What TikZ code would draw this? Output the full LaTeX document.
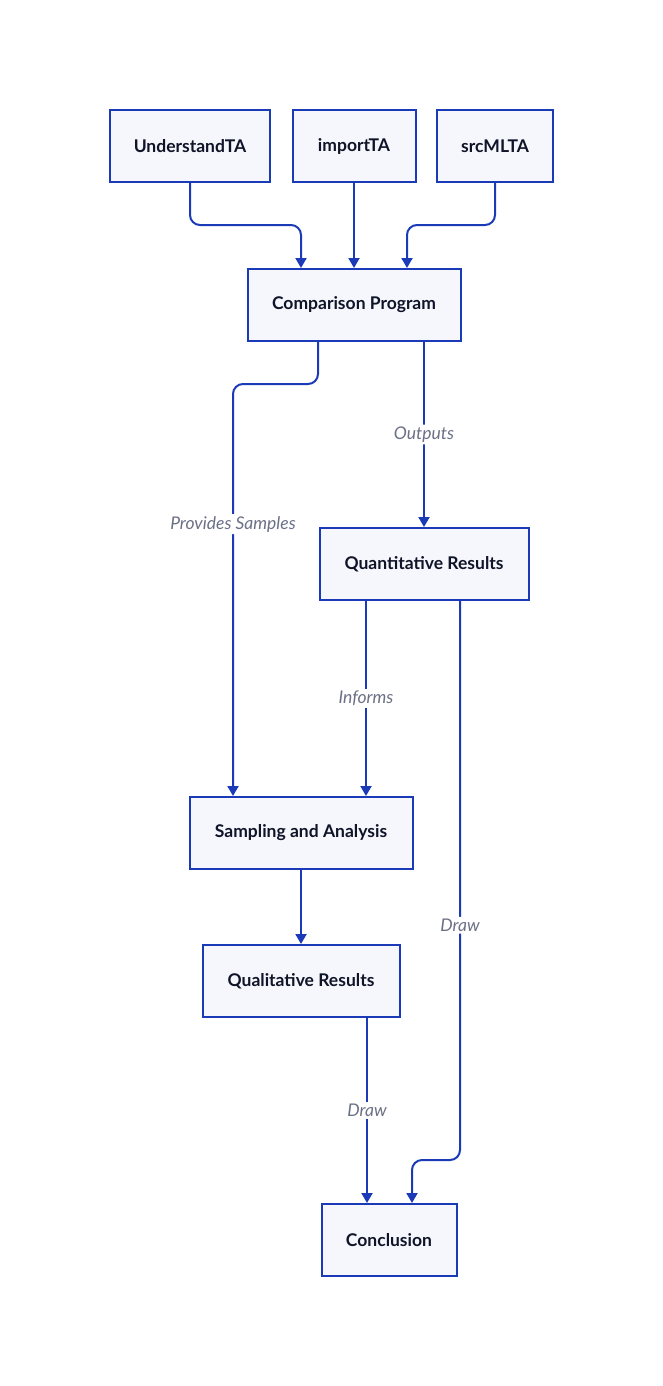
\documentclass[tikz,border=0pt]{standalone}
\usepackage{fontspec}
\setmainfont{Lato}
\usetikzlibrary{arrows.meta,calc}
\definecolor{edgeblue}{RGB}{26,58,184}
\definecolor{boxfill}{RGB}{246,247,252}
\definecolor{boxtext}{RGB}{16,20,40}
\definecolor{labeltext}{RGB}{108,112,134}
\begin{document}
\begin{tikzpicture}[x=1pt,y=-1pt,
  box/.style={draw=edgeblue,fill=boxfill,line width=2pt,minimum height=72pt,inner sep=0pt,
    font=\fontsize{17.5}{20}\selectfont\bfseries,text=boxtext},
  edge/.style={draw=edgeblue,line width=2pt,rounded corners=10pt,
    -{Triangle[width=11pt,length=10pt]}},
  elabel/.style={fill=white,inner sep=2pt,font=\fontsize{17.5}{20}\selectfont\itshape,text=labeltext}]
\useasboundingbox (0,0) rectangle (663,1386);
\node[box,minimum width=160pt] (u) at (190,146) {UnderstandTA};
\node[box,minimum width=123pt] (i) at (354,146) {importTA};
\node[box,minimum width=116pt] (s) at (495,146) {srcMLTA};
\node[box,minimum width=213pt] (cp) at (354,305) {Comparison Program};
\node[box,minimum width=209pt] (q) at (424,564) {Quantitative Results};
\node[box,minimum width=223pt] (sa) at (301,833) {Sampling and Analysis};
\node[box,minimum width=197pt] (ql) at (301,981) {Qualitative Results};
\node[box,minimum width=135pt] (c) at (389,1240) {Conclusion};
% top three into comparison
\draw[edge] (u.south) -- (190,225) -- (301,225) -- ([xshift=-53pt]cp.north);
\draw[edge] (i.south) -- (cp.north);
\draw[edge] (s.south) -- (495,225) -- (407,225) -- ([xshift=53pt]cp.north);
% comparison to sampling
\draw[edge] ([xshift=-36pt]cp.south) -- (318,384) -- (233,384)
  -- node[elabel,pos=0.34] {Provides Samples} ([xshift=-68pt]sa.north);
% comparison to quantitative
\draw[edge] ([xshift=70pt]cp.south) -- (q.north) node[elabel,midway] {Outputs};
% quantitative to sampling
\draw[edge] ([xshift=-58pt]q.south) -- ([xshift=65pt]sa.north) node[elabel,midway] {Informs};
% quantitative to conclusion
\draw[edge] ([xshift=36pt]q.south) -- node[elabel,pos=0.58] {Draw} (460,1160) -- (412,1160)
  -- ([xshift=23pt]c.north);
% sampling to qualitative
\draw[edge] (sa.south) -- (ql.north);
% qualitative to conclusion
\draw[edge] ([xshift=66pt]ql.south) -- ([xshift=-22pt]c.north) node[elabel,midway] {Draw};
\end{tikzpicture}
\end{document}
